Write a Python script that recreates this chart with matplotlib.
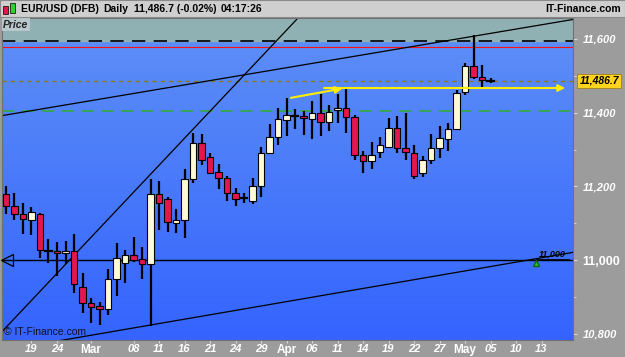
import matplotlib
matplotlib.use('Agg')
import matplotlib.pyplot as plt
import numpy as np
from matplotlib.patches import Rectangle
from matplotlib.colors import LinearSegmentedColormap

plt.rcParams['font.family'] = ['Liberation Sans', 'DejaVu Sans']

# daily EUR/USD (DFB) candles, 16 Feb -> 5 May, x = trading day index
opens = [11179, 11147, 11125, 11109, 11125, 11026, 11025, 11018, 11024, 10926,
         10884, 10876, 10866, 10948, 10993, 11014, 11002, 10988, 11179, 11167,
         11101, 11109, 11219, 11319, 11279, 11238, 11224, 11181, 11170, 11161,
         11201, 11291, 11335, 11380, 11393, 11391, 11384, 11398, 11375, 11407,
         11412, 11387, 11286, 11270, 11293, 11306, 11359, 11305, 11291, 11235,
         11271, 11303, 11329, 11355, 11456, 11527, 11498, 11488]
highs = [11201, 11181, 11154, 11143, 11128, 11056, 11050, 11052, 11071, 10964,
         10896, 10885, 10975, 11047, 11027, 11062, 11036, 11220, 11215, 11172,
         11138, 11246, 11346, 11342, 11291, 11262, 11228, 11195, 11181, 11224,
         11308, 11369, 11412, 11439, 11409, 11405, 11432, 11451, 11420, 11451,
         11466, 11393, 11297, 11320, 11335, 11385, 11391, 11398, 11311, 11282,
         11342, 11364, 11373, 11461, 11536, 11611, 11529, 11494]
lows = [11125, 11109, 11072, 11068, 11005, 10991, 10957, 10989, 10910, 10857,
        10830, 10823, 10852, 10902, 10938, 10995, 10948, 10821, 11081, 11077,
        11074, 11061, 11208, 11258, 11233, 11192, 11161, 11147, 11156, 11152,
        11172, 11288, 11312, 11337, 11357, 11339, 11329, 11337, 11350, 11373,
        11346, 11271, 11237, 11248, 11276, 11305, 11291, 11271, 11219, 11226,
        11260, 11276, 11297, 11353, 11447, 11491, 11469, 11481]
closes = [11147, 11125, 11111, 11131, 11027, 11024, 11018, 11024, 10935, 10884,
          10873, 10866, 10948, 11005, 11014, 11000, 10988, 11179, 11156, 11102,
          11110, 11219, 11319, 11271, 11237, 11224, 11181, 11167, 11168, 11201,
          11291, 11335, 11382, 11394, 11391, 11385, 11398, 11375, 11401, 11413,
          11387, 11285, 11270, 11286, 11312, 11359, 11305, 11292, 11228, 11271,
          11303, 11330, 11355, 11454, 11527, 11496, 11489, 11487]

tick_pos = [3, 6, 10, 15, 18, 21, 24, 27, 30, 33, 36, 39, 42, 45, 48, 51, 54, 57, 60, 63]
tick_lbl = ['19', '24', 'Mar', '08', '11', '16', '21', '24', '29', 'Apr',
            '06', '11', '14', '19', '22', '27', 'May', '05', '10', '13']
price_ticks = [10800, 11000, 11200, 11400, 11600]
price_minor = [10900, 11100, 11300, 11500]

last_price = 11486.7
support = 11000
green_level = 11405
red_level = 11577
zone_level = 11594

# drawn trend lines: (index, price) pairs
steep_line = [(-0.5, 10805), (34.35, 11657)]
upper_channel = [(-0.47, 11392), (66.7, 11653)]
lower_channel = [(18.1, 10828), (55.76, 10977.5)]
yellow_arrow = [(33.2, 11439), (39.9, 11467)]
yellow_hline = [(37.1, 11467), (66.1, 11467)]

xmin, xmax = -0.47, 66.7
ymin, ymax = 10783, 11657

fig = plt.figure(figsize=(6.25, 3.57), dpi=100, facecolor='#9c9c9c')
ax = fig.add_axes([2/625, 17/357, 571/625, 322/357])

# blue gradient background
grad = np.linspace(0, 1, 256).reshape(-1, 1)
cmap = LinearSegmentedColormap.from_list('bg', ['#3464fe', '#5f90f6'])
ax.imshow(grad, extent=[xmin, xmax, ymin, ymax], origin='lower', aspect='auto',
          cmap=cmap, zorder=0)
ax.axhspan(zone_level, ymax, color='#8fb1b4', zorder=1)
ax.axhline(zone_level, color='black', lw=1.2, ls=(0, (8, 5)), zorder=2)
ax.axhline(red_level, color='#ff1010', lw=0.8, zorder=2)
ax.axhline(last_price, color='#8a7a10', lw=1, ls=(0, (3, 3)), zorder=2)
ax.axhline(green_level, color='#2fae2f', lw=1.1, ls=(0, (8, 5)), zorder=2)
ax.axhline(support, color='black', lw=1, zorder=2)

for ln in (steep_line, upper_channel, lower_channel):
    (x0, y0), (x1, y1) = ln
    s = (y1 - y0) / (x1 - x0)
    xs = np.array([xmin - 5, xmax + 5])
    ax.plot(xs, y0 + s * (xs - x0), color='black', lw=0.9, zorder=2)

# candles
for i in range(len(opens)):
    o, h, l, c = opens[i], highs[i], lows[i], closes[i]
    ax.plot([i, i], [l, h], color='black', lw=1.6, zorder=3, solid_capstyle='butt')
    if abs(o - c) < 4:
        ax.plot([i - 0.4, i + 0.4], [c, c], color='black', lw=1.6, zorder=4)
        continue
    col = '#fffbd6' if c > o else '#e3174b'
    ax.add_patch(Rectangle((i - 0.36, min(o, c)), 0.72, abs(c - o), facecolor=col,
                           edgecolor='black', lw=0.8, zorder=4))

# yellow arrows
(ax0, ay0), (ax1, ay1) = yellow_arrow
ax.annotate('', xy=(ax1, ay1), xytext=(ax0, ay0),
            arrowprops=dict(arrowstyle='-|>', color='#ffee00', lw=1.5, mutation_scale=10),
            zorder=5)
(hx0, hy0), (hx1, hy1) = yellow_hline
ax.annotate('', xy=(hx1, hy1), xytext=(hx0, hy0),
            arrowprops=dict(arrowstyle='-|>', color='#ffee00', lw=1.5, mutation_scale=10),
            zorder=5)

# support marker / label
ax.plot([xmin + 0.55], [support], marker='<', ms=8, mfc='none', mec='black', mew=0.9,
        zorder=5, clip_on=False)
ax.plot([62.3], [support - 8], marker='^', ms=5, color='#22cc22', mec='#116611',
        zorder=5)
ax.text(64.3, support + 5, '11,000', fontsize=6.5, style='italic', fontweight='bold',
        color='black', ha='center', va='bottom', zorder=5)
ax.plot([62.4, 66.2], [support + 4, support + 4], color='black', lw=0.6, zorder=5)

ax.set_xlim(xmin, xmax)
ax.set_ylim(ymin, ymax)
for sp in ax.spines.values():
    sp.set_color('#707070')
    sp.set_linewidth(0.8)

ax.yaxis.tick_right()
ax.set_yticks(price_ticks)
ax.set_yticks(price_minor, minor=True)
ax.set_yticklabels([f'{p:,}' for p in price_ticks])
ax.tick_params(axis='y', which='both', colors='#d8d8d8', length=3, pad=4)
ax.tick_params(axis='y', which='minor', length=2)
for t in ax.get_yticklabels():
    t.set_color('white')
    t.set_fontsize(8)
    t.set_fontweight('bold')
    t.set_style('normal' if t.get_text() == '11,000' else 'italic')
    if t.get_text() == '11,000':
        t.set_fontsize(9)

ax.set_xticks(tick_pos)
ax.set_xticklabels(tick_lbl)
ax.tick_params(axis='x', colors='#d8d8d8', length=2, pad=1)
for t in ax.get_xticklabels():
    t.set_color('white')
    t.set_fontweight('bold')
    if t.get_text() in ('Mar', 'Apr', 'May'):
        t.set_fontsize(8.5)
    else:
        t.set_fontsize(8)
        t.set_style('italic')

# last price box
ax.text(1.046, (last_price - ymin) / (ymax - ymin), '11,486.7', transform=ax.transAxes,
        fontsize=7.5, fontweight='bold', style='italic', color='black', ha='center',
        va='center', bbox=dict(boxstyle='square,pad=0.2', fc='#ffd41c', ec='#a08020', lw=0.6),
        zorder=6, clip_on=False)

ax.text(0.002, 0.995, 'Price', transform=ax.transAxes, fontsize=7.5, fontweight='bold',
        style='italic', color='#222222', ha='left', va='top',
        bbox=dict(boxstyle='square,pad=0.15', fc='#b8c8cc', ec='none'), zorder=6)
ax.text(0.004, 0.008, '\u00a9 IT-Finance.com', transform=ax.transAxes, fontsize=7.5,
        color='#101020', ha='left', va='bottom', zorder=6)

# title bar
fig.patches.append(Rectangle((0, 340/357), 1, 17/357, transform=fig.transFigure,
                             facecolor='#cfcfcf', edgecolor='#8a8a8a', lw=0.8))
fig.patches.append(Rectangle((3/625, 343/357), 5/625, 8/357, transform=fig.transFigure,
                             facecolor='#e3174b', edgecolor='black', lw=0.5))
fig.patches.append(Rectangle((10/625, 344/357), 5/625, 10/357, transform=fig.transFigure,
                             facecolor='#33cc33', edgecolor='black', lw=0.5))
fig.text(21/625, 348.5/357, 'EUR/USD (DFB)', fontsize=7.5, fontweight='bold', va='center')
fig.text(103/625, 348.5/357, 'Daily', fontsize=7.5, fontweight='bold', va='center')
fig.text(134/625, 348.5/357, '11,486.7 (-0.02%)', fontsize=7.5, fontweight='bold', va='center')
fig.text(221/625, 348.5/357, '04:17:26', fontsize=7.5, fontweight='bold', va='center')
fig.text(621/625, 348.5/357, 'IT-Finance.com', fontsize=7.5, fontweight='bold',
         va='center', ha='right')

fig.savefig('out.png', dpi=100, facecolor=fig.get_facecolor())
